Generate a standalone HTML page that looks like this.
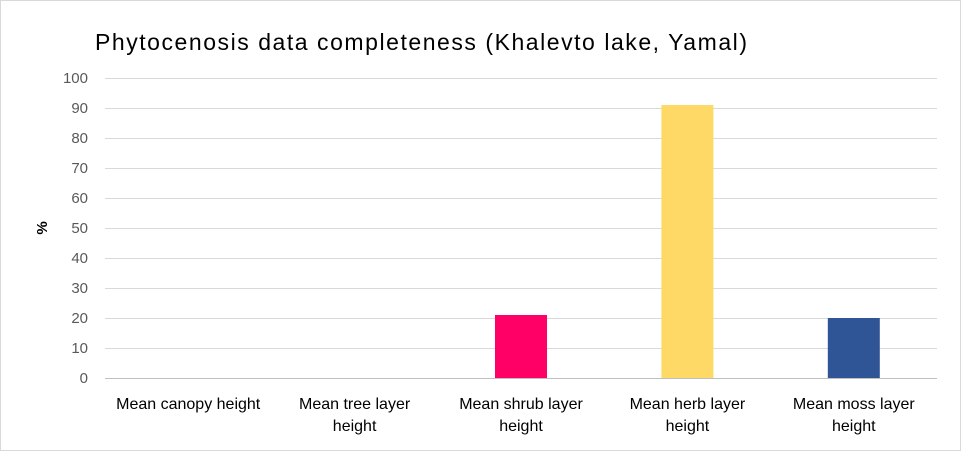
<!DOCTYPE html>
<html><head><meta charset="utf-8"><style>
html,body{margin:0;padding:0;background:#fff;}
body{width:961px;height:451px;overflow:hidden;font-family:"Liberation Sans",sans-serif;}
</style></head><body>
<svg id="chart" width="961" height="451" xmlns="http://www.w3.org/2000/svg">
<rect x="0.5" y="0.5" width="960" height="450" fill="#fff" stroke="#d9d9d9"/>
<text x="95" y="50" font-size="23" textLength="652" lengthAdjust="spacing" fill="#000" font-family="Liberation Sans, sans-serif">Phytocenosis  data completeness (Khalevto lake, Yamal)</text>
<text transform="translate(47,228) rotate(-90)" text-anchor="middle" font-size="15" font-weight="bold" fill="#000">%</text>
<g id="grid"></g><g id="bars"></g><g id="labels"></g>
</svg>
<script>
const categories=[["Mean canopy height"],["Mean tree layer","height"],["Mean shrub layer","height"],["Mean herb layer","height"],["Mean moss layer","height"]];
const values=[0,0,21,91,20];
const colors=["#4472c4","#ed7d31","#ff0066","#ffd966","#2f5597"];
const yTicks=[0,10,20,30,40,50,60,70,80,90,100];
const NS="http://www.w3.org/2000/svg";
const x0=105,x1=937,yb=378,yt=78,ymax=100;
const y=v=>yb-(v/ymax)*(yb-yt);
const band=(x1-x0)/categories.length;
const xc=i=>x0+band*(i+0.5);
const grid=document.getElementById('grid'),bars=document.getElementById('bars'),labels=document.getElementById('labels');
yTicks.forEach(t=>{
 const l=document.createElementNS(NS,'line');
 
 
 l.setAttribute('x1',x0);l.setAttribute('x2',x1);l.setAttribute('y1',y(t)+0.5);l.setAttribute('y2',y(t)+0.5);
 l.setAttribute('stroke',t===0?'#bfbfbf':'#d9d9d9');l.setAttribute('stroke-width','1');
 grid.appendChild(l);
 const tx=document.createElementNS(NS,'text');
 
 
 tx.setAttribute('x',88);tx.setAttribute('y',y(t)+5);tx.setAttribute('text-anchor','end');
 tx.setAttribute('font-size','15');tx.setAttribute('fill','#595959');tx.textContent=t;
 labels.appendChild(tx);
});
categories.forEach((c,i)=>{
 const bw=52;
 const r=document.createElementNS(NS,'rect');
 
 
 r.setAttribute('x',xc(i)-bw/2);r.setAttribute('width',bw);
 r.setAttribute('y',y(values[i]));r.setAttribute('height',yb-y(values[i]));
 r.setAttribute('fill',colors[i]);
 bars.appendChild(r);
 c.forEach((line,j)=>{
  const tx=document.createElementNS(NS,'text');
  
  
  tx.setAttribute('x',xc(i));tx.setAttribute('y',409+j*22);tx.setAttribute('text-anchor','middle');
  tx.setAttribute('font-size','16');tx.setAttribute('fill','#000');tx.textContent=line;
  labels.appendChild(tx);
 });
});
</script>
</body></html>
